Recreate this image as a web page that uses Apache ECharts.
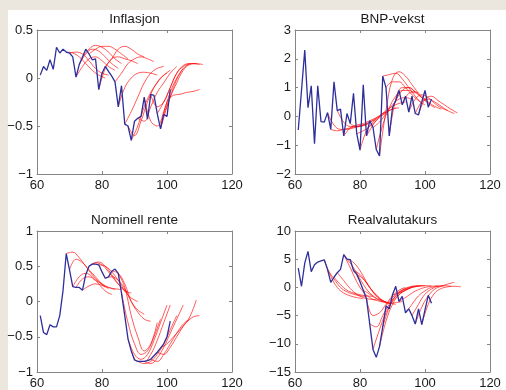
<!DOCTYPE html>
<html>
<head>
<meta charset="utf-8">
<script src="https://cdn.jsdelivr.net/npm/echarts@6/dist/echarts.min.js"></script>
<style>
  html, body { margin: 0; padding: 0; background: #ebe6de; }
  #panel { position: absolute; left: 8px; top: 10px; width: 498px; height: 380px; background: #ffffff; }
  #chart { position: absolute; left: 0; top: 0; width: 506px; height: 390px; }
</style>
</head>
<body>
<div id="panel"></div>
<div id="chart"></div>
<script>
// ---- data ----
const xTicks = [60, 80, 100, 120];
const titles = ['Inflasjon', 'BNP-vekst', 'Nominell rente', 'Realvalutakurs'];
const inflTicks = [-1, -0.5, 0, 0.5];
const bnpTicks = [-2, -1, 0, 1, 2, 3];
const renteTicks = [-1, -0.5, 0, 0.5, 1];
const valutaTicks = [-15, -10, -5, 0, 5, 10];

// actual outcome, one value per period starting at firstPeriod
const firstPeriod = 61;
const inflActual = [0.03, 0.12, 0.08, 0.19, 0.09, 0.32, 0.26, 0.30, 0.27, 0.26, 0.22, 0.01, 0.14, 0.22,
  0.30, 0.25, 0.19, 0.20, -0.12, 0.05, 0.12, 0.07, 0.02, -0.04, -0.30, -0.08, -0.48, -0.50, -0.65,
  -0.45, -0.42, -0.40, -0.20, -0.43, -0.17, -0.18, -0.37, -0.53, -0.38, -0.40, -0.12];
const bnpActual = [-0.47, 0.9, 2.3, 0.3, 1.06, -0.95, 1.06, -0.18, -0.2, 0.13, -0.45, 1.2, 0.2, 0.25,
  -0.68, 0.1, -0.25, 0.8, -0.6, -1.17, 1.1, -0.68, -0.15, -0.38, -1.15, -1.37, 1.4, 1.0, -0.68, 0.3,
  0.55, 0.9, 0.4, 0.7, 0.15, 0.7, 0.1, 0.05, 0.5, 0.9, 0.32, 0.6];
const renteActual = [-0.2, -0.44, -0.47, -0.33, -0.36, -0.36, -0.2, 0.15, 0.68, 0.45, 0.21, 0.2, 0.2,
  0.16, 0.38, 0.5, 0.53, 0.53, 0.52, 0.42, 0.33, 0.35, 0.43, 0.46, 0.4, 0.12, -0.2, -0.53, -0.7, -0.83,
  -0.85, -0.85, -0.85, -0.84, -0.82, -0.77, -0.72, -0.66, -0.6, -0.5, -0.28];
const valutaActual = [3.4, 0.2, 4.3, 6.4, 2.8, 4.0, 4.5, 4.7, 4.9, 3.2, 0.9, 1.8, 2.6, 3.2, 5.8, 5.0,
  4.9, 3.0, 2.3, 1.0, -0.5, -2.0, -6.5, -11.0, -12.4, -10.5, -7.0, -3.3, -3.8, -1.3, 0.2, -2.5, -1.6,
  -4.5, -3.8, -5.0, -6.5, -3.8, -6.6, -4.0, -1.4, -2.8];

// forecasts: [start period, values every forecastStep periods]
const forecastStep = 2;
const inflForecasts = [
  [69, [0.27, 0.26, 0.22, 0.15, 0.08, 0.03, 0.0]],
  [70, [0.26, 0.27, 0.25, 0.18, 0.10, 0.05, 0.03]],
  [72, [0.01, 0.12, 0.20, 0.22, 0.18, 0.12, 0.08]],
  [73, [0.14, 0.25, 0.30, 0.28, 0.22, 0.15, 0.10]],
  [74, [0.22, 0.30, 0.34, 0.32, 0.27, 0.20, 0.15]],
  [76, [0.25, 0.30, 0.33, 0.33, 0.30, 0.25, 0.20]],
  [79, [-0.12, 0.10, 0.20, 0.22, 0.20, 0.18, 0.15]],
  [81, [0.12, 0.20, 0.30, 0.33, 0.30, 0.25, 0.22]],
  [84, [-0.04, 0.05, 0.15, 0.20, 0.22, 0.20, 0.17]],
  [85, [-0.30, -0.10, 0.0, 0.05, 0.06, 0.05, 0.03]],
  [87, [-0.48, -0.35, -0.20, -0.05, 0.05, 0.10, 0.12]],
  [88, [-0.50, -0.60, -0.45, -0.25, -0.10, 0.0, 0.05]],
  [89, [-0.65, -0.50, -0.30, -0.15, -0.05, 0.03, 0.08]],
  [91, [-0.42, -0.45, -0.30, -0.15, -0.05, 0.05, 0.12]],
  [93, [-0.20, -0.45, -0.50, -0.35, -0.15, 0.0, 0.10]],
  [95, [-0.17, -0.30, -0.25, -0.10, 0.05, 0.12, 0.15]],
  [97, [-0.37, -0.25, -0.10, 0.05, 0.13, 0.15, 0.15]],
  [98, [-0.53, -0.30, -0.10, 0.05, 0.13, 0.15, 0.14]],
  [99, [-0.38, -0.20, -0.05, 0.08, 0.14, 0.15, 0.14]],
  [98, [-0.53, -0.25, -0.18, -0.17, -0.15, -0.14, -0.12]]
];
const bnpForecasts = [
  [70, [0.13, -0.30, -0.45, -0.45, -0.40, -0.35, -0.30]],
  [71, [-0.45, -0.50, -0.45, -0.40, -0.35, -0.30, -0.25]],
  [73, [0.20, -0.20, -0.35, -0.35, -0.30, -0.20, -0.10]],
  [75, [-0.68, -0.40, -0.30, -0.25, -0.15, -0.05, 0.05]],
  [77, [-0.25, -0.35, -0.30, -0.20, -0.05, 0.10, 0.20]],
  [79, [-0.60, -0.50, -0.35, -0.15, 0.05, 0.20, 0.30]],
  [80, [-1.17, -0.50, -0.20, 0.0, 0.15, 0.25, 0.30]],
  [82, [-0.68, -0.30, 0.0, 0.20, 0.35, 0.45, 0.50]],
  [84, [-0.38, -0.20, 0.10, 0.40, 0.60, 0.65, 0.60]],
  [85, [-1.15, -0.30, 0.30, 0.70, 0.90, 0.90, 0.80]],
  [86, [-1.37, 0.20, 1.30, 1.55, 1.40, 1.10, 0.80]],
  [87, [1.40, 1.45, 1.50, 1.30, 1.00, 0.70, 0.45]],
  [88, [1.00, 1.20, 1.20, 1.00, 0.75, 0.55, 0.40]],
  [89, [-0.68, 0.60, 1.00, 1.00, 0.85, 0.65, 0.50]],
  [91, [0.55, 0.90, 1.00, 0.85, 0.65, 0.45, 0.30]],
  [93, [0.40, 0.80, 0.85, 0.70, 0.50, 0.35, 0.25]],
  [95, [0.15, 0.60, 0.75, 0.65, 0.45, 0.30, 0.20]],
  [97, [0.10, 0.50, 0.60, 0.50, 0.35, 0.20, 0.10]],
  [98, [0.05, 0.60, 0.70, 0.55, 0.40, 0.25, 0.12]]
];
const renteForecasts = [
  [69, [0.68, 0.70, 0.62, 0.50, 0.38, 0.28, 0.20]],
  [70, [0.45, 0.60, 0.55, 0.45, 0.35, 0.25, 0.18]],
  [71, [0.21, 0.35, 0.40, 0.35, 0.25, 0.15, 0.10]],
  [72, [0.20, 0.32, 0.35, 0.30, 0.25, 0.20, 0.17]],
  [74, [0.16, 0.22, 0.25, 0.23, 0.20, 0.18, 0.17]],
  [76, [0.50, 0.55, 0.52, 0.42, 0.30, 0.20, 0.13]],
  [77, [0.53, 0.56, 0.50, 0.38, 0.25, 0.15, 0.12]],
  [79, [0.52, 0.50, 0.42, 0.30, 0.15, 0.05, 0.0]],
  [81, [0.33, 0.35, 0.30, 0.18, 0.0, -0.12, -0.18]],
  [83, [0.43, 0.40, 0.25, 0.0, -0.15, -0.25, -0.28]],
  [85, [0.40, 0.20, -0.20, -0.50, -0.70, -0.60, -0.30]],
  [86, [0.12, -0.30, -0.60, -0.75, -0.70, -0.50, -0.25]],
  [88, [-0.53, -0.75, -0.82, -0.75, -0.55, -0.30, -0.05]],
  [89, [-0.70, -0.85, -0.85, -0.75, -0.55, -0.30, -0.05]],
  [91, [-0.85, -0.88, -0.85, -0.75, -0.60, -0.40, -0.20]],
  [93, [-0.85, -0.88, -0.80, -0.65, -0.45, -0.25, -0.05]],
  [95, [-0.82, -0.85, -0.75, -0.60, -0.45, -0.32, -0.25]],
  [97, [-0.72, -0.75, -0.65, -0.50, -0.35, -0.22, 0.02]],
  [98, [-0.66, -0.60, -0.50, -0.40, -0.30, -0.22, -0.20]]
];
const valutaForecasts = [
  [69, [4.9, 2.0, 0.0, -1.0, -1.5, -1.8, -2.0]],
  [70, [3.2, 1.5, 0.0, -0.8, -1.2, -1.5, -1.6]],
  [72, [1.8, 0.5, -0.5, -1.0, -1.3, -1.5, -1.6]],
  [73, [2.6, 1.2, -0.2, -1.2, -1.8, -2.1, -2.2]],
  [75, [5.8, 3.5, 1.0, -0.8, -1.8, -2.3, -2.5]],
  [76, [5.0, 3.5, 1.5, -0.3, -1.5, -2.2, -2.6]],
  [77, [4.9, 3.8, 2.0, 0.0, -1.5, -2.4, -2.8]],
  [78, [3.0, 2.3, 0.8, -0.8, -2.0, -2.6, -2.8]],
  [79, [2.3, 1.5, 0.0, -1.3, -2.3, -2.8, -3.0]],
  [81, [-0.5, -1.2, -2.0, -2.6, -2.8, -2.7, -2.5]],
  [82, [-2.0, -5.0, -4.5, -3.0, -1.5, -0.5, 0.0]],
  [83, [-6.5, -7.0, -5.0, -3.0, -1.5, -0.6, -0.2]],
  [84, [-11.0, -7.5, -4.5, -2.5, -1.3, -0.5, 0.0]],
  [86, [-10.5, -6.0, -3.0, -1.3, -0.5, 0.0, 0.2]],
  [87, [-7.0, -3.5, -1.5, -0.5, 0.0, 0.2, 0.3]],
  [88, [-3.3, -1.8, -0.8, -0.2, 0.2, 0.3, 0.3]],
  [90, [-1.3, -1.0, -0.5, 0.0, 0.2, 0.3, 0.3]],
  [92, [-2.5, -1.8, -1.0, -0.4, 0.0, 0.2, 0.3]],
  [94, [-4.5, -3.0, -1.5, -0.6, 0.0, 0.2, 0.3]],
  [96, [-5.0, -3.0, -1.2, -0.3, 0.2, 0.3, 0.2]],
  [97, [-6.5, -3.5, -1.5, -0.3, 0.2, 0.6, 0.9]],
  [99, [-6.6, -3.0, -1.0, -0.2, 0.1, 0.2, 0.1]]
];

// ---- layout / style ----
const panels = [
  { ticks: inflTicks, actual: inflActual, fc: inflForecasts, grid: { left: 37, top: 30 } },
  { ticks: bnpTicks, actual: bnpActual, fc: bnpForecasts, grid: { left: 295, top: 30 } },
  { ticks: renteTicks, actual: renteActual, fc: renteForecasts, grid: { left: 37, top: 231 } },
  { ticks: valutaTicks, actual: valutaActual, fc: valutaForecasts, grid: { left: 295, top: 231 } }
];
const plotW = 195, plotH = 144;
const font = 'Liberation Sans, Arial, Helvetica, sans-serif';
const axisColor = '#858585';
const labelColor = '#1a1a1a';
const redColor = 'rgba(255,0,0,0.65)';
const blueColor = '#2e2e9c';

const minus = v => String(v).replace('-', '\u2212');

const grids = [], xAxes = [], yAxes = [], series = [], graphics = [];

panels.forEach((p, i) => {
  grids.push({ left: p.grid.left, top: p.grid.top, width: plotW, height: plotH });
  const yMin = p.ticks[0], yMax = p.ticks[p.ticks.length - 1];
  const yInt = p.ticks[1] - p.ticks[0];
  const common = {
    gridIndex: i,
    axisLine: { show: true, onZero: false, lineStyle: { color: axisColor, width: 1 } },
    axisTick: { show: true, inside: true, length: 3, lineStyle: { color: axisColor } },
    splitLine: { show: false }
  };
  // bottom & top x axis
  xAxes.push(Object.assign({}, common, {
    type: 'value', position: 'bottom', min: xTicks[0], max: xTicks[xTicks.length - 1],
    interval: xTicks[1] - xTicks[0],
    axisLabel: { show: true, color: labelColor, fontFamily: font, fontSize: 13, margin: 5,
      showMinLabel: true, showMaxLabel: true, formatter: minus }
  }));
  xAxes.push(Object.assign({}, common, {
    type: 'value', position: 'top', min: xTicks[0], max: xTicks[xTicks.length - 1],
    interval: xTicks[1] - xTicks[0], axisLabel: { show: false }
  }));
  // left & right y axis
  yAxes.push(Object.assign({}, common, {
    type: 'value', position: 'left', min: yMin, max: yMax, interval: yInt,
    axisLabel: { show: true, color: labelColor, fontFamily: font, fontSize: 13, margin: 4,
      showMinLabel: true, showMaxLabel: true, formatter: minus }
  }));
  yAxes.push(Object.assign({}, common, {
    type: 'value', position: 'right', min: yMin, max: yMax, interval: yInt,
    axisLabel: { show: false }
  }));

  p.fc.forEach(f => {
    series.push({
      type: 'line', xAxisIndex: 2 * i, yAxisIndex: 2 * i,
      data: f[1].map((v, k) => [f[0] + k * forecastStep, v]),
      smooth: 0.4, showSymbol: false, silent: true, z: 2,
      lineStyle: { color: redColor, width: 1 }
    });
  });
  series.push({
    type: 'line', xAxisIndex: 2 * i, yAxisIndex: 2 * i,
    data: p.actual.map((v, k) => [firstPeriod + k, v]),
    showSymbol: false, silent: true, z: 3,
    lineStyle: { color: blueColor, width: 1.3 }
  });

  graphics.push({
    type: 'text', x: p.grid.left + plotW / 2, y: p.grid.top - 11,
    style: { text: titles[i], fill: labelColor, font: '13.5px ' + font, align: 'center', verticalAlign: 'middle' }
  });
});

const chart = echarts.init(document.getElementById('chart'));
chart.setOption({
  animation: false,
  backgroundColor: 'transparent',
  grid: grids,
  xAxis: xAxes,
  yAxis: yAxes,
  series: series,
  graphic: graphics
});
</script>
</body>
</html>
